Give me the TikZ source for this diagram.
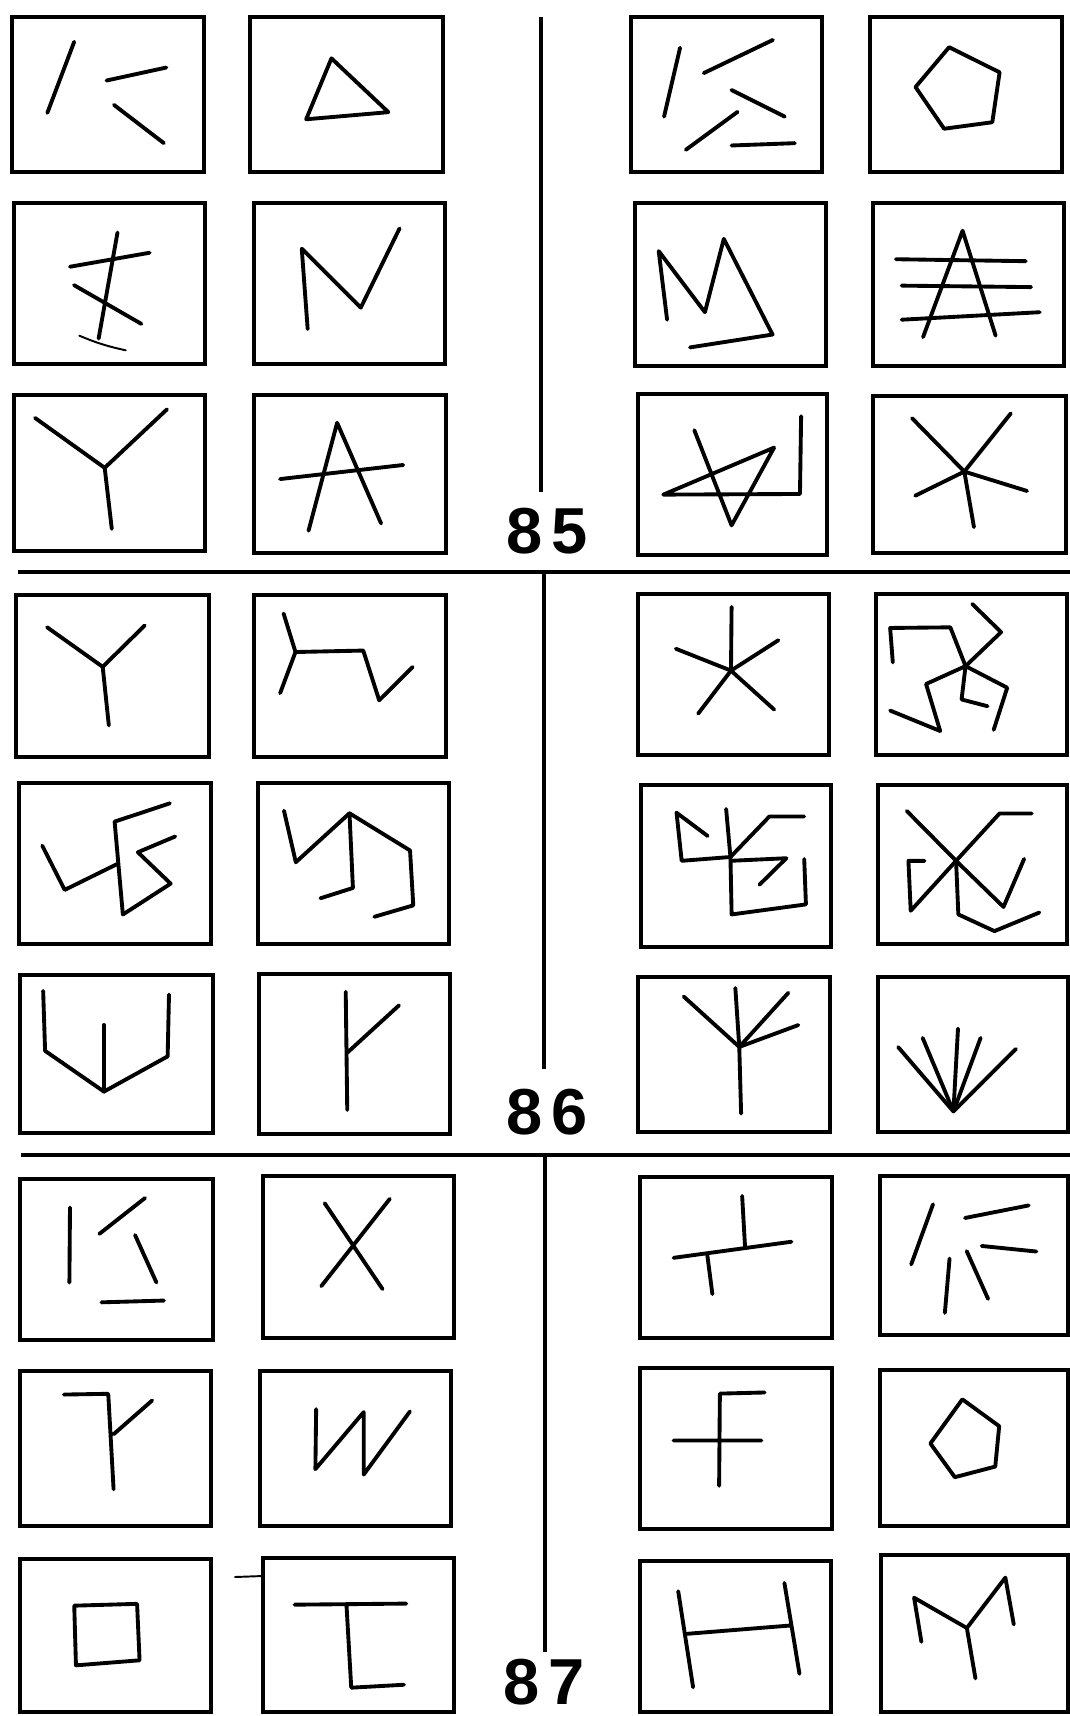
\documentclass[tikz,border=0pt]{standalone}
\usepackage{fontspec}
\newfontfamily\numfont{Liberation Sans}
\usepackage{tikz}
\tikzset{
  cardbx/.style={line width=2.4pt},
  strk/.style={line width=2.2pt,line cap=round,line join=round},
  thinstrk/.style={line width=1.1pt,line cap=round},
  divln/.style={line width=2.4pt},
  numlab/.style={font=\numfont\bfseries\fontsize{37}{37}\selectfont,inner sep=0pt},
  cell/.style n args={4}{shift={(#1,#2)},xscale=#3-#1,yscale=#4-#2,
    execute at begin scope={\draw[cardbx] (0,0) rectangle (1,1);}},
}
\begin{document}
\begin{tikzpicture}[x=0.02cm,y=-0.02cm]
  \fill[white] (0,0) rectangle (1070,1716);
  \useasboundingbox (0,0) rectangle (1070,1716);
  % dividers
  \draw[divln] (541,17)--(541,492);
  \draw[divln] (18,572)--(1070,572);
  \draw[divln] (544,572)--(544,1069);
  \draw[divln] (21,1155)--(1070,1155);
  \draw[divln] (545,1155)--(545,1652);
  \node[numlab] (lab85) at (547,531) {8\kern5pt5};
  \node[numlab] (lab86) at (547,1112) {8\kern5pt6};
  \node[numlab] (lab87) at (544,1682) {8\kern5pt7};
  \draw[thinstrk] (235,1577)--(263,1576);

  % ---- 85 ----
  \begin{scope}[cell={12}{17}{204}{172}]
    \draw[strk] (0.324,0.160)--(0.184,0.619) (0.492,0.410)--(0.804,0.326) (0.531,0.567)--(0.791,0.814);
  \end{scope}
  \begin{scope}[cell={250}{17}{443}{172}]
    \draw[strk] (0.422,0.267)--(0.717,0.614)--(0.291,0.660)--cycle;
  \end{scope}
  \begin{scope}[cell={14}{203}{205}{364}]
    \draw[strk] (0.542,0.183)--(0.443,0.842) (0.293,0.396)--(0.710,0.309) (0.314,0.510)--(0.667,0.751);
    \draw[thinstrk] (0.342,0.824) to[bend right=6] (0.585,0.915);
  \end{scope}
  \begin{scope}[cell={254}{203}{445}{364}]
    \draw[strk] (0.281,0.783)--(0.250,0.284)--(0.559,0.650)--(0.762,0.158);
  \end{scope}
  \begin{scope}[cell={14}{395}{205}{551}]
    \coordinate (c) at (0.475,0.467);
    \foreach \a/\b in {0.110/0.147,0.801/0.092,0.512/0.858}
      \draw[strk] (c)--(\a,\b);
  \end{scope}
  \begin{scope}[cell={254}{395}{446}{553}]
    \draw[strk] (0.284,0.859)--(0.433,0.176)--(0.662,0.813) (0.136,0.532)--(0.777,0.443);
  \end{scope}
  \begin{scope}[cell={631}{17}{822}{172}]
    \draw[strk] (0.257,0.198)--(0.173,0.643) (0.381,0.362)--(0.743,0.148) (0.526,0.471)--(0.805,0.643)
      (0.558,0.612)--(0.287,0.857) (0.526,0.829)--(0.858,0.814);
  \end{scope}
  \begin{scope}[cell={870}{17}{1062}{172}]
    \draw[strk] (0.412,0.195)--(0.675,0.357)--(0.637,0.679)--(0.386,0.721)--(0.237,0.452)--cycle;
  \end{scope}
  \begin{scope}[cell={635}{203}{826}{366}]
    \draw[strk] (0.168,0.716)--(0.124,0.295)--(0.366,0.670)--(0.465,0.220)--(0.720,0.807)--(0.288,0.886);
  \end{scope}
  \begin{scope}[cell={873}{203}{1064}{366}]
    \draw[strk] (0.262,0.823)--(0.469,0.170)--(0.642,0.814);
    \draw[strk] (0.120,0.345)--(0.800,0.357) (0.150,0.507)--(0.828,0.516) (0.150,0.716)--(0.873,0.670);
  \end{scope}
  \begin{scope}[cell={638}{394}{827}{555}]
    \draw[strk] (0.298,0.225)--(0.495,0.816)--(0.720,0.333)--(0.134,0.625)--(0.857,0.621)--(0.863,0.138);
  \end{scope}
  \begin{scope}[cell={873}{396}{1066}{553}]
    \coordinate (c) at (0.474,0.482);
    \foreach \a/\b in {0.202/0.141,0.714/0.111,0.798/0.605,0.523/0.835,0.219/0.635}
      \draw[strk] (c)--(\a,\b);
  \end{scope}

  % ---- 86 ----
  \begin{scope}[cell={16}{595}{209}{757}]
    \coordinate (c) at (0.450,0.444);
    \foreach \a/\b in {0.161/0.199,0.667/0.188,0.481/0.805}
      \draw[strk] (c)--(\a,\b);
  \end{scope}
  \begin{scope}[cell={254}{595}{446}{757}]
    \draw[strk] (0.154,0.114)--(0.216,0.352)--(0.136,0.606);
    \draw[strk] (0.216,0.352)--(0.569,0.343)--(0.652,0.650)--(0.827,0.444);
  \end{scope}
  \begin{scope}[cell={19}{783}{211}{944}]
    \draw[strk] (0.786,0.126)--(0.498,0.240)--(0.541,0.817)--(0.790,0.625)--(0.619,0.430)--(0.814,0.332);
    \draw[strk] (0.121,0.389)--(0.238,0.664)--(0.512,0.503);
  \end{scope}
  \begin{scope}[cell={258}{783}{449}{944}]
    \draw[strk] (0.136,0.172)--(0.198,0.492)--(0.479,0.188)--(0.796,0.419)--(0.813,0.760)--(0.609,0.831);
    \draw[strk] (0.479,0.188)--(0.497,0.652)--(0.327,0.716);
  \end{scope}
  \begin{scope}[cell={20}{975}{213}{1133}]
    \draw[strk] (0.120,0.101)--(0.130,0.480)--(0.435,0.738)--(0.765,0.515)--(0.772,0.124);
    \draw[strk] (0.435,0.316)--(0.435,0.738);
  \end{scope}
  \begin{scope}[cell={259}{974}{450}{1134}]
    \draw[strk] (0.454,0.111)--(0.462,0.850) (0.462,0.492)--(0.733,0.196);
  \end{scope}
  \begin{scope}[cell={638}{594}{829}{755}]
    \coordinate (c) at (0.487,0.476);
    \foreach \a/\b in {0.490/0.080,0.735/0.287,0.713/0.718,0.315/0.743,0.198/0.340}
      \draw[strk] (c)--(\a,\b);
  \end{scope}
  \begin{scope}[cell={876}{594}{1067}{755}]
    \coordinate (c) at (0.469,0.448);
    \draw[strk] (c)--(0.389,0.207)--(0.074,0.211)--(0.088,0.425);
    \draw[strk] (c)--(0.655,0.237)--(0.504,0.062);
    \draw[strk] (c)--(0.687,0.582)--(0.616,0.844);
    \draw[strk] (c)--(0.448,0.655)--(0.584,0.697);
    \draw[strk] (c)--(0.262,0.559)--(0.336,0.851)--(0.074,0.724);
  \end{scope}
  \begin{scope}[cell={641}{785}{831}{947}]
    \coordinate (c) at (0.472,0.445);
    \draw[strk] (0.448,0.148)--(c)--(0.477,0.799)--(0.868,0.737)--(0.859,0.457);
    \draw[strk] (c)--(0.214,0.468)--(0.187,0.171)--(0.351,0.315);
    \draw[strk] (c)--(0.676,0.194)--(0.859,0.194);
    \draw[strk] (0.472,0.468)--(0.765,0.452)--(0.623,0.616);
  \end{scope}
  \begin{scope}[cell={878}{785}{1067}{944}]
    \coordinate (c) at (0.414,0.477);
    \draw[strk] (c)--(0.152,0.163);
    \draw[strk] (c)--(0.643,0.179)--(0.813,0.179);
    \draw[strk] (c)--(0.664,0.767)--(0.773,0.465);
    \draw[strk] (c)--(0.425,0.814)--(0.616,0.919)--(0.854,0.802);
    \draw[strk] (c)--(0.173,0.791)--(0.161,0.477)--(0.246,0.477);
  \end{scope}
  \begin{scope}[cell={638}{977}{830}{1132}]
    \coordinate (c) at (0.528,0.452);
    \draw[strk] (0.507,0.071)--(c)--(0.537,0.881);
    \foreach \a/\b in {0.238/0.126,0.783/0.102,0.835/0.310}
      \draw[strk] (c)--(\a,\b);
  \end{scope}
  \begin{scope}[cell={878}{977}{1068}{1132}]
    \coordinate (c) at (0.398,0.869);
    \foreach \a/\b in {0.106/0.452,0.235/0.393,0.421/0.333,0.540/0.393,0.726/0.464}
      \draw[strk] (c)--(\a,\b);
  \end{scope}

  % ---- 87 ----
  \begin{scope}[cell={20}{1179}{213}{1340}]
    \draw[strk] (0.259,0.177)--(0.256,0.643) (0.411,0.341)--(0.648,0.118)
      (0.596,0.348)--(0.707,0.643) (0.422,0.766)--(0.746,0.755);
  \end{scope}
  \begin{scope}[cell={263}{1176}{454}{1338}]
    \draw[strk] (0.323,0.168)--(0.626,0.698) (0.664,0.141)--(0.305,0.680);
  \end{scope}
  \begin{scope}[cell={20}{1371}{211}{1526}]
    \draw[strk] (0.230,0.152)--(0.462,0.147)--(0.490,0.763) (0.490,0.408)--(0.692,0.190);
  \end{scope}
  \begin{scope}[cell={260}{1371}{451}{1526}]
    \draw[strk] (0.294,0.246)--(0.290,0.633)--(0.543,0.265)--(0.543,0.668)--(0.785,0.261);
  \end{scope}
  \begin{scope}[cell={20}{1559}{211}{1712}]
    \draw[strk] (0.284,0.305)--(0.613,0.293)--(0.626,0.662)--(0.293,0.695)--cycle;
  \end{scope}
  \begin{scope}[cell={263}{1558}{454}{1712}]
    \draw[strk] (0.165,0.303)--(0.750,0.296) (0.437,0.303)--(0.462,0.842)--(0.738,0.823);
  \end{scope}
  \begin{scope}[cell={640}{1177}{832}{1338}]
    \draw[strk] (0.175,0.502)--(0.789,0.402) (0.532,0.118)--(0.547,0.432) (0.351,0.489)--(0.377,0.727);
  \end{scope}
  \begin{scope}[cell={880}{1176}{1068}{1335}]
    \draw[strk] (0.282,0.178)--(0.166,0.556) (0.452,0.264)--(0.791,0.185) (0.541,0.440)--(0.832,0.475)
      (0.370,0.519)--(0.345,0.861) (0.461,0.472)--(0.575,0.773);
  \end{scope}
  \begin{scope}[cell={640}{1368}{832}{1529}]
    \draw[strk] (0.175,0.450)--(0.632,0.450) (0.412,0.732)--(0.416,0.159)--(0.649,0.152);
  \end{scope}
  \begin{scope}[cell={880}{1370}{1068}{1526}]
    \draw[strk] (0.438,0.188)--(0.634,0.360)--(0.613,0.619)--(0.398,0.687)--(0.268,0.471)--cycle;
  \end{scope}
  \begin{scope}[cell={640}{1561}{831}{1712}]
    \draw[strk] (0.200,0.200)--(0.278,0.836) (0.756,0.145)--(0.835,0.747) (0.248,0.482)--(0.788,0.427);
  \end{scope}
  \begin{scope}[cell={881}{1555}{1068}{1712}]
    \draw[strk] (0.216,0.553)--(0.177,0.272)--(0.459,0.465)--(0.665,0.144)--(0.710,0.442);
    \draw[strk] (0.459,0.465)--(0.505,0.786);
  \end{scope}
\end{tikzpicture}
\end{document}
